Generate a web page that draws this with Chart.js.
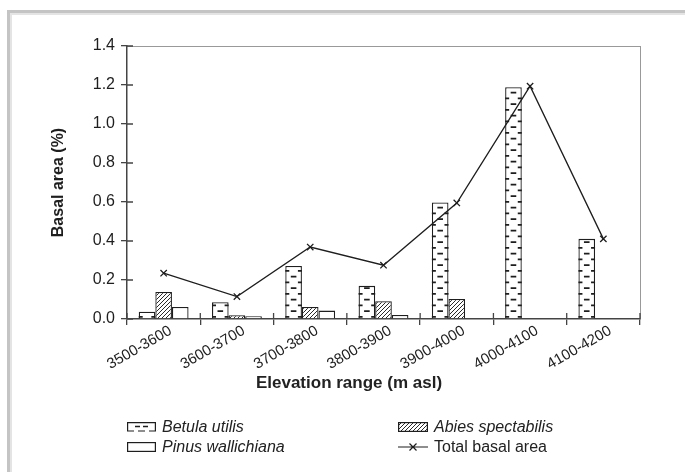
<!DOCTYPE html>
<html>
<head>
<meta charset="utf-8">
<script src="https://cdn.jsdelivr.net/npm/chart.js@4.4.0/dist/chart.umd.min.js"></script>
<style>
    body { margin: 0; background: #fff; font-family: "Liberation Sans", Arial, sans-serif; }
    #wrap { position: relative; width: 685px; height: 472px; overflow: hidden; }
    #frame {
        position: absolute; left: 7px; top: 10px; width: 720px; height: 520px;
        border-top: 3px solid #c4c4c4; border-left: 3px solid #c4c4c4;
        box-shadow: inset 2px 2px 0 #e4e4e4;
    }
    #graphCanvas { position: absolute; left: 0; top: 0; }
    #xTitle {
        position: absolute; left: 249px; top: 373px; width: 200px; text-align: center;
        font-weight: bold; font-size: 17px; line-height: 20px; color: #222;
    }
    .legend-item {
        position: absolute; display: flex; align-items: center;
        font-size: 16px; line-height: 18px; color: #222; white-space: nowrap;
    }
    .legend-item canvas { margin-right: 6px; }
</style>
</head>
<body>
<div id="wrap">
    <div id="frame"></div>
    <canvas id="graphCanvas" width="685" height="472"></canvas>
    <div id="xTitle">Elevation range (m asl)</div>
    <div id="legend"></div>
</div>
<script>
// Data
const categories = ['3500-3600', '3600-3700', '3700-3800', '3800-3900', '3900-4000', '4000-4100', '4100-4200'];
const betulaUtilis = [0.037, 0.086, 0.272, 0.170, 0.598, 1.189, 0.411];
const abiesSpectabilis = [0.139, 0.019, 0.062, 0.091, 0.103, 0, 0];
const pinusWallichiana = [0.062, 0.014, 0.043, 0.021, 0, 0, 0];
const totalBasalArea = [0.235, 0.115, 0.369, 0.276, 0.595, 1.194, 0.411];

const ink = '#1e1e1e';
const axisColor = '#444';

// Diagonal hatch for Abies spectabilis
function hatchPattern(ctx2) {
    const c = document.createElement('canvas');
    c.width = 4; c.height = 4;
    const g = c.getContext('2d');
    g.fillStyle = '#fff';
    g.fillRect(0, 0, 4, 4);
    g.strokeStyle = '#2a2a2a';
    g.lineWidth = 1;
    g.beginPath();
    g.moveTo(-1, 5); g.lineTo(5, -1);
    g.stroke();
    return ctx2.createPattern(c, 'repeat');
}

// Betula bars: rows of short dashes, alternating centre / edges
function drawDashes(ctx, left, right, top, base) {
    const mid = (left + right) / 2;
    ctx.beginPath();
    for (let k = 0; ; k++) {
        const yEdge = base - 1.5 - 11.5 * k;
        const yMid = yEdge - 5.75;
        if (yEdge < top + 0.5) break;
        ctx.moveTo(left, yEdge); ctx.lineTo(left + 4, yEdge);
        ctx.moveTo(right - 4, yEdge); ctx.lineTo(right, yEdge);
        if (yMid > top + 1) {
            ctx.moveTo(mid - 2.8, yMid); ctx.lineTo(mid + 2.8, yMid);
        }
    }
    ctx.stroke();
}

const betulaDashes = {
    id: 'betulaDashes',
    afterDatasetDraw(chart, args) {
        if (args.index !== 0) return;
        const ctx = chart.ctx;
        ctx.save();
        ctx.strokeStyle = ink;
        ctx.lineWidth = 1.8;
        args.meta.data.forEach(bar => {
            if (bar.base - bar.y < 1) return;
            drawDashes(ctx, bar.x - bar.width / 2, bar.x + bar.width / 2, bar.y, bar.base);
        });
        ctx.restore();
    }
};

// Ticks on the inner side of the axes (the original ticks cross the axis)
const innerTicks = {
    id: 'innerTicks',
    afterDraw(chart) {
        const { ctx, scales: { x, y } } = chart;
        ctx.save();
        ctx.strokeStyle = axisColor;
        ctx.lineWidth = 1.3;
        ctx.beginPath();
        y.ticks.forEach(t => {
            const py = y.getPixelForValue(t.value);
            ctx.moveTo(x.left, py); ctx.lineTo(x.left + 6, py);
        });
        const w = (x.right - x.left) / categories.length;
        for (let i = 0; i <= categories.length; i++) {
            const px = x.left + i * w;
            ctx.moveTo(px, y.bottom); ctx.lineTo(px, y.bottom - 6);
        }
        ctx.stroke();
        ctx.restore();
    }
};

const canvas = document.getElementById('graphCanvas');
const ctx = canvas.getContext('2d');
const hatch = hatchPattern(ctx);

const chart = new Chart(ctx, {
    type: 'bar',
    data: {
        labels: categories,
        datasets: [
            {
                label: 'Betula utilis',
                data: betulaUtilis,
                backgroundColor: '#fff',
                borderColor: ink,
                borderWidth: 1.3,
                order: 1
            },
            {
                label: 'Abies spectabilis',
                data: abiesSpectabilis,
                backgroundColor: hatch,
                borderColor: ink,
                borderWidth: 1.3,
                order: 1
            },
            {
                label: 'Pinus wallichiana',
                data: pinusWallichiana,
                backgroundColor: '#fff',
                borderColor: ink,
                borderWidth: 1.3,
                order: 1
            },
            {
                type: 'line',
                label: 'Total basal area',
                data: totalBasalArea,
                borderColor: ink,
                borderWidth: 1.3,
                pointStyle: 'crossRot',
                pointRadius: 4.5,
                pointBorderWidth: 1.3,
                pointBorderColor: ink,
                tension: 0,
                order: 0
            }
        ]
    },
    options: {
        responsive: false,
        animation: false,
        devicePixelRatio: 1,
        layout: { padding: { left: 0, top: 46, right: 45, bottom: 0 } },
        datasets: {
            bar: { categoryPercentage: 0.68, barPercentage: 1.0 }
        },
        plugins: {
            legend: { display: false },
            tooltip: { enabled: false }
        },
        scales: {
            x: {
                grid: { drawOnChartArea: false, tickLength: 6, color: axisColor, lineWidth: 1.3 },
                border: { color: axisColor, width: 1.5 },
                ticks: {
                    autoSkip: false,
                    minRotation: 30,
                    maxRotation: 30,
                    labelOffset: 7,
                    padding: -3,
                    color: ink,
                    font: { family: '"Liberation Sans", Arial, sans-serif', size: 15 }
                },
                afterFit(scale) { scale.height = 153; }
            },
            x2: {
                position: 'top',
                ticks: { display: false },
                grid: { display: false, drawTicks: false },
                border: { color: '#999', width: 1 },
                afterFit(scale) { scale.height = 0; }
            },
            y: {
                min: 0,
                max: 1.4,
                grid: { drawOnChartArea: false, tickLength: 6, color: axisColor, lineWidth: 1.3 },
                border: { color: axisColor, width: 1.5 },
                ticks: {
                    stepSize: 0.2,
                    padding: 6,
                    color: ink,
                    font: { family: '"Liberation Sans", Arial, sans-serif', size: 16 },
                    callback: v => v.toFixed(1)
                },
                title: {
                    display: true,
                    text: 'Basal area (%)',
                    color: ink,
                    font: { family: '"Liberation Sans", Arial, sans-serif', size: 16, weight: 'bold' },
                    padding: { top: 49, bottom: 0 }
                },
                afterFit(scale) { scale.width = 127; }
            },
            y2: {
                position: 'right',
                ticks: { display: false },
                grid: { display: false, drawTicks: false },
                border: { color: '#999', width: 1 },
                afterFit(scale) { scale.width = 0; }
            }
        }
    },
    plugins: [betulaDashes, innerTicks]
});

// Two-column legend like the original figure
function buildLegend() {
    const legend = document.getElementById('legend');
    const items = [
        { ds: 0, left: 127, top: 418, swW: 29, swH: 10 },
        { ds: 2, left: 127, top: 438, swW: 29, swH: 10 },
        { ds: 1, left: 398, top: 418, swW: 30, swH: 10 },
        { ds: 3, left: 398, top: 438, swW: 30, swH: 10 }
    ];
    items.forEach(it => {
        const ds = chart.data.datasets[it.ds];
        const div = document.createElement('div');
        div.className = 'legend-item';
        div.style.left = it.left + 'px';
        div.style.top = it.top + 'px';
        const sw = document.createElement('canvas');
        sw.width = it.swW; sw.height = it.swH;
        const g = sw.getContext('2d');
        g.strokeStyle = ink;
        g.lineWidth = 1.2;
        const w = it.swW, h = it.swH;
        if (ds.type === 'line') {
            const my = h / 2;
            g.beginPath();
            g.moveTo(0, my); g.lineTo(w, my);
            g.moveTo(w / 2 - 3.5, my - 3.5); g.lineTo(w / 2 + 3.5, my + 3.5);
            g.moveTo(w / 2 - 3.5, my + 3.5); g.lineTo(w / 2 + 3.5, my - 3.5);
            g.stroke();
        } else if (it.ds === 0) {
            // box with dashed bottom and a row of two dashes
            g.beginPath();
            g.moveTo(0.6, h - 0.6); g.lineTo(0.6, 0.6); g.lineTo(w - 0.6, 0.6); g.lineTo(w - 0.6, h - 0.6);
            g.moveTo(0, h - 1); g.lineTo(7, h - 1);
            g.moveTo(11, h - 1); g.lineTo(18, h - 1);
            g.moveTo(22, h - 1); g.lineTo(w, h - 1);
            g.stroke();
            g.lineWidth = 1.6;
            g.beginPath();
            g.moveTo(8, 4.5); g.lineTo(13, 4.5);
            g.moveTo(16, 4.5); g.lineTo(21, 4.5);
            g.stroke();
        } else {
            g.fillStyle = it.ds === 1 ? hatchPattern(g) : '#fff';
            g.fillRect(0.6, 0.6, w - 1.2, h - 1.2);
            g.strokeRect(0.6, 0.6, w - 1.2, h - 1.2);
        }
        const span = document.createElement('span');
        span.textContent = ds.label;
        if (ds.type !== 'line') span.style.fontStyle = 'italic';
        div.appendChild(sw);
        div.appendChild(span);
        legend.appendChild(div);
    });
}

buildLegend();
</script>
</body>
</html>
